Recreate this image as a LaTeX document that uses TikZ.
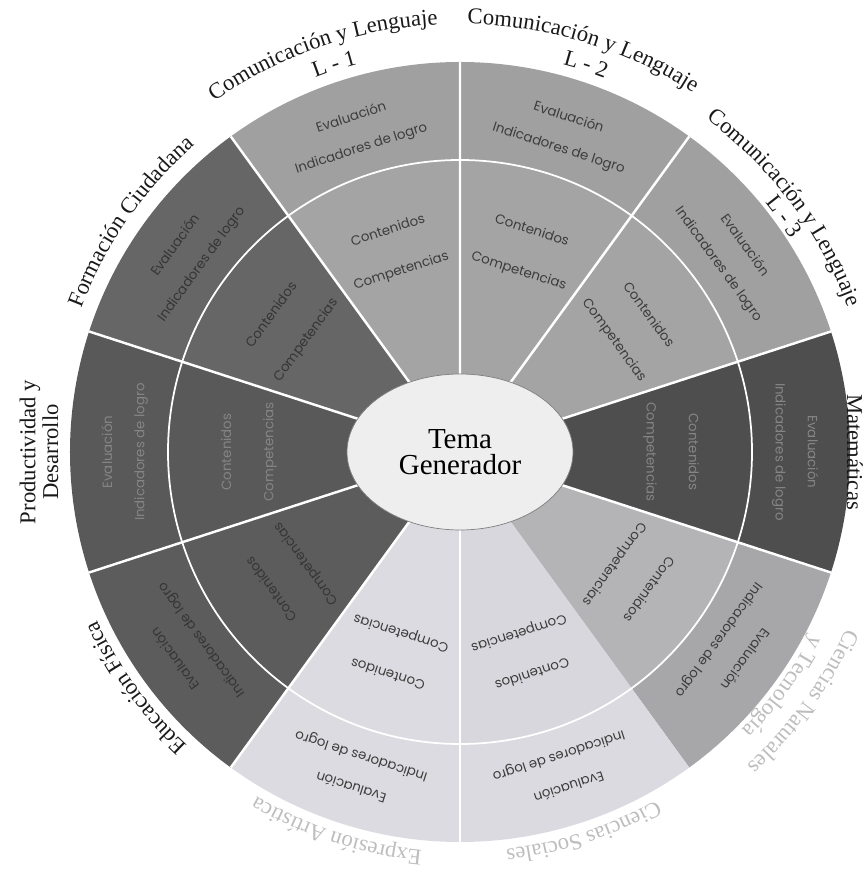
\documentclass[tikz,border=0pt]{standalone}
\usepackage{fontspec}
\setmainfont{Liberation Serif}
\newfontfamily\ringfont{Poppins}
\usetikzlibrary{shapes.geometric,decorations.text}

\definecolor{lenguaje}{HTML}{A0A0A0}
\definecolor{lenguajein}{HTML}{A4A4A4}
\definecolor{ciudadana}{HTML}{666666}
\definecolor{productiva}{HTML}{595959}
\definecolor{fisica}{HTML}{5C5C5C}
\definecolor{artistica}{HTML}{DCDBE1}
\definecolor{sociales}{HTML}{DBDAE0}
\definecolor{socialesin}{HTML}{D8D7DD}
\definecolor{naturales}{HTML}{A7A7A9}
\definecolor{naturalesin}{HTML}{B4B4B7}
\definecolor{matematica}{HTML}{4E4E4E}
\definecolor{temafill}{HTML}{EEEEEE}
\definecolor{ringdark}{HTML}{3C3C3C}
\definecolor{ringshade}{HTML}{353535}
\definecolor{ringlight}{HTML}{858585}
\definecolor{namefade}{HTML}{BDBDBD}

\newcommand{\rimfont}{\fontsize{12.9}{13}\selectfont}

\tikzset{
	ringtext/.style={font=\ringfont\fontsize{7.6}{9}\selectfont, inner sep=0pt},
	divider/.style={draw=white, line width=1.4pt},
	midring/.style={draw=white, line width=1pt},
	temabox/.style={ellipse, fill=temafill, draw=black!50, line width=0.4pt, minimum width=4.52cm, minimum height=3.12cm, align=center, font=\fontsize{16.5}{14.5}\selectfont, inner sep=0pt},
	areaname/.style={font=\rimfont, align=center, inner sep=0pt, text=black!90}
}

% #1 name, #2 mid angle, #3 outer fill, #4 inner fill, #5 text colour
\newcommand{\areasector}[5]{%
	\fill[#3] (0,0) -- (#2-18:390) arc[start angle=#2-18, end angle=#2+18, radius=390] -- cycle;
	\fill[#4] (0,0) -- (#2-18:292) arc[start angle=#2-18, end angle=#2+18, radius=292] -- cycle;
	\node[ringtext, text=#5, rotate=#2-90] (#1-ev) at (#2:353) {Evaluación};
	\node[ringtext, text=#5, rotate=#2-90] (#1-ind) at (#2:319) {Indicadores de logro};
	\node[ringtext, text=#5, rotate=#2-90] (#1-con) at (#2:234) {Contenidos};
	\node[ringtext, text=#5, rotate=#2-90] (#1-comp) at (#2:190) {Competencias};
}

% #1 mid angle, #2 radius, #3 colour, #4 text
\newcommand{\arcname}[4]{%
	\path[decorate, decoration={text along path, text align=center, text color=#3, text={|\rimfont|#4}}]
		(#1+35:#2) arc[start angle=#1+35, end angle=#1-35, radius=#2];
}

\begin{document}
\begin{tikzpicture}[x=0.02cm, y=0.02cm]
	\useasboundingbox (-460,-422) rectangle (403,452);
	%%% sectors
	\areasector{lu}{108}{lenguaje}{lenguajein}{ringdark}
	\areasector{ld}{72}{lenguaje}{lenguajein}{ringdark}
	\areasector{lt}{36}{lenguaje}{lenguajein}{ringdark}
	\areasector{mat}{0}{matematica}{matematica}{ringlight}
	\areasector{nat}{-36}{naturales}{naturalesin}{ringdark}
	\areasector{soc}{-72}{sociales}{socialesin}{ringdark}
	\areasector{art}{-108}{artistica}{artistica}{ringdark}
	\areasector{fis}{-144}{fisica}{fisica}{ringshade}
	\areasector{prod}{180}{productiva}{productiva}{ringlight}
	\areasector{ciu}{144}{ciudadana}{ciudadana}{ringshade}
	%%% rings and dividers
	\draw[midring] (0,0) circle[radius=292];
	\draw[divider] (0,0) -- (90:390) (0,0) -- (54:390) (0,0) -- (18:390) (0,0) -- (-18:390)
		(0,0) -- (-126:390) (0,0) -- (-162:390) (0,0) -- (162:390) (0,0) -- (126:390);
	\draw[divider, line width=0.8pt] (0,0) -- (-90:390);
	\node[temabox] (tema) at (0,0) {Tema\\Generador};
	%%% area names
	\arcname{109}{428}{black!90}{Comunicación y Lenguaje}
	\arcname{108}{401}{black!90}{L - 1}
	\arcname{73}{428}{black!90}{Comunicación y Lenguaje}
	\arcname{72}{401}{black!90}{L - 2}
	\arcname{37}{414}{black!90}{Comunicación y Lenguaje}
	\arcname{36}{394}{black!90}{L - 3}
	\arcname{-36}{425}{namefade}{Ciencias Naturales}
	\arcname{-36}{396}{namefade}{y Tecnología}
	\arcname{-72}{400}{namefade}{Ciencias Sociales}
	\arcname{-108}{400}{namefade}{Expresión Artística}
	\arcname{-144}{400}{black!90}{Educación Física}
	\arcname{145}{405}{black!90}{Formación Ciudadana}
	\node[areaname, rotate=90] (prod) at (180:421) {Productividad y\\Desarrollo};
	\node[areaname, rotate=-90] (mate) at (0:395) {Matemáticas};
\end{tikzpicture}
\end{document}
